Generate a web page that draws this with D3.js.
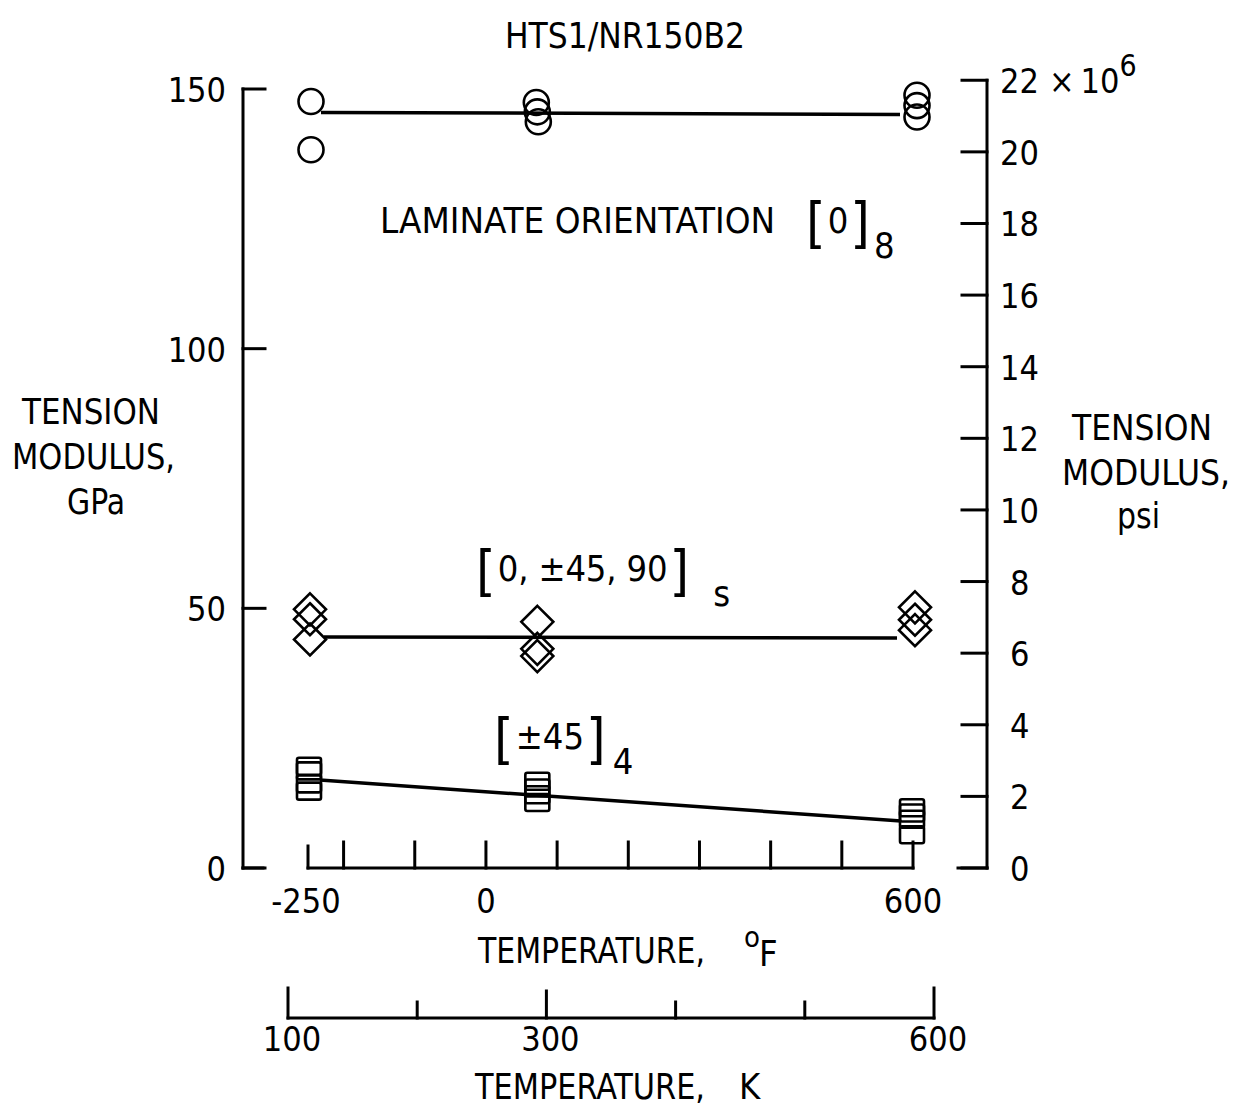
<!DOCTYPE html>
<html><head><meta charset="utf-8">
<script src="https://cdn.jsdelivr.net/npm/d3@7"></script>
<style>
body{margin:0;background:#fff;}
svg text{font-family:"DejaVu Sans Condensed","DejaVu Sans",sans-serif;font-stretch:condensed;fill:#000;}
</style></head>
<body><svg id="c" width="1243" height="1108"></svg>
<script>
// ---- data ----
const tempsF = [-250, 75, 600];
const o8Values = [[147.6, 138.3], [147.4, 145.6, 143.7], [148.8, 146.8, 144.6]];
const quasiValues = [[49.8, 47.9, 44.0], [47.4, 42.2, 40.8], [50.2, 47.8, 45.8]];
const pm45Values = [[19.6, 18.7, 16.2, 14.8], [16.7, 15.4, 14.1, 12.6], [11.6, 10.6, 9.4, 6.4]];
const o8Fit = [145.5, 145.1];
const quasiFit = [44.5, 44.3];
const pm45Fit = [17.1, 8.9];
const gpaTicks = [0, 50, 100, 150];
const psiTicks = [0, 2, 4, 6, 8, 10, 12, 14, 16, 18, 20, 22];
const fTicks = [-250, -200, -100, 0, 100, 200, 300, 400, 500, 600];
const fLabels = [-250, 0, 600];
const kTicks = [100, 200, 300, 400, 500, 600];
const kLabels = [100, 300, 600];
const GPA_TO_MPSI = 0.145038;

const svg = d3.select("#c");
const y = d3.scaleLinear().domain([0, 150]).range([868, 89]);
const yR = d3.scaleLinear().domain([0, 150 * GPA_TO_MPSI]).range([868, 89]);
const xF = d3.scaleLinear().domain([-250, 600]).range([308, 913]);
const xK = d3.scaleLinear().domain([100, 600]).range([288, 934]);

const fs = 36, ns = 34;
function label(txt, x, yb, size, len, anchor) {
  const t = svg.append("text").attr("x", x).attr("y", yb).attr("font-size", size).attr("text-anchor", anchor || "start").text(txt);
  if (len) t.attr("textLength", len).attr("lengthAdjust", "spacingAndGlyphs");
  return t;
}
const ax = svg.append("g").attr("stroke", "#000").attr("stroke-width", 3).attr("fill", "none").attr("stroke-linecap", "square");

// left axis
ax.append("line").attr("x1", 243).attr("x2", 243).attr("y1", y(150)).attr("y2", y(0));
gpaTicks.forEach(t => ax.append("line").attr("x1", 243).attr("x2", 265).attr("y1", y(t)).attr("y2", y(t)));
gpaTicks.forEach(t => label(String(t), 226, y(t) + 13, ns, null, "end"));

// right axis
ax.append("line").attr("x1", 987).attr("x2", 987).attr("y1", yR(22)).attr("y2", yR(0));
psiTicks.forEach(t => ax.append("line").attr("x1", 962).attr("x2", 987).attr("y1", yR(t)).attr("y2", yR(t)));
psiTicks.forEach(t => {
  const tx = label(String(t), t < 10 ? 1010 : 1000, yR(t) + 13, ns);
  if (t === 22) {
    tx.append("tspan").attr("dx", 10).text("×");
    tx.append("tspan").attr("dx", 6).text("10");
    tx.append("tspan").attr("dy", -17).attr("font-size", 30).text("6");
  }
});

// F axis
ax.append("line").attr("x1", xF(-250)).attr("x2", xF(600)).attr("y1", 868).attr("y2", 868);
fTicks.forEach(t => ax.append("line").attr("x1", xF(t)).attr("x2", xF(t)).attr("y1", 868).attr("y2", t === -250 ? 846 : 842));
fLabels.forEach(t => label(String(t), xF(t) + (t === -250 ? -2 : 0), 913, ns, null, "middle"));

// K axis
ax.append("line").attr("x1", xK(100)).attr("x2", xK(600)).attr("y1", 1018).attr("y2", 1018);
kTicks.forEach(t => ax.append("line").attr("x1", xK(t)).attr("x2", xK(t)).attr("y1", 1018)
  .attr("y2", (t === 100 || t === 600) ? 988 : (t === 300 ? 991 : 1002)));
kLabels.forEach(t => label(String(t), xK(t) + 4, 1051, ns, null, "middle"));

// frame stubs at bottom
ax.append("line").attr("x1", 243).attr("x2", 263).attr("y1", 868).attr("y2", 868);
ax.append("line").attr("x1", 958).attr("x2", 987).attr("y1", 868).attr("y2", 868);

// titles
label("HTS1/NR150B2", 505, 48, 35, 240);
label("TENSION", 22, 424, fs, 138);
label("MODULUS,", 12, 469, fs, 163);
label("GPa", 67, 514, fs, 58);
label("TENSION", 1072, 440, fs, 140);
label("MODULUS,", 1062, 485, fs, 168);
label("psi", 1117, 528, fs, 43);

label("TEMPERATURE,", 478, 963, fs, 227);
label("o", 744, 947, 29);
label("F", 759, 966, fs);
label("TEMPERATURE,", 475, 1099, fs, 230);
label("K", 739, 1099, fs);

// laminate labels
label("LAMINATE ORIENTATION", 380, 233, fs, 395);
function lam(x, yb, inner, innerLen, sub, subDx) {
  const t = svg.append("text").attr("x", x).attr("y", yb).attr("font-size", fs);
  t.append("tspan").attr("font-size", 56).attr("dy", 9).text("[");
  const ti = t.append("tspan").attr("dy", -9).attr("dx", 2).text(inner);
  if (innerLen) ti.attr("textLength", innerLen);
  t.append("tspan").attr("font-size", 56).attr("dy", 9).attr("dx", 2).text("]");
  t.append("tspan").attr("dy", 16).attr("dx", subDx).text(sub);
}
lam(806, 233, "0", null, "8", 4);
lam(476, 581, "0,  \u00b145,  90", 170, "s", 24);
lam(494, 749, "\u00b145", null, "4", 7);

// fits
function fitLine(vals, r) {
  const x0 = xF(-250), x1 = xF(600), y0 = y(vals[0]), y1 = y(vals[1]);
  const len = Math.hypot(x1 - x0, y1 - y0), ux = (x1 - x0) / len, uy = (y1 - y0) / len;
  svg.append("line").attr("x1", x0 + ux * r).attr("y1", y0 + uy * r).attr("x2", x1 - ux * r).attr("y2", y1 - uy * r)
    .attr("stroke", "#000").attr("stroke-width", 3.5);
}
fitLine(o8Fit, 13);
fitLine(quasiFit, 16);
fitLine(pm45Fit, 12);

const mk = svg.append("g").attr("fill", "none").attr("stroke", "#000").attr("stroke-width", 2.6);
const xOff = [3, -3, 4];
tempsF.forEach((t, i) => o8Values[i].forEach((v, j) =>
  mk.append("circle").attr("cx", xF(t) + xOff[i] + (i === 1 ? j : 0)).attr("cy", y(v)).attr("r", 12.5)));
const xOffD = [2, -2, 2];
tempsF.forEach((t, i) => quasiValues[i].forEach(v => {
  const cx = xF(t) + xOffD[i], cy = y(v), r = 16;
  mk.append("path").attr("d", `M${cx},${cy - r}L${cx + r},${cy}L${cx},${cy + r}L${cx - r},${cy}Z`);
}));
const xOffS = [1, -2, -1];
tempsF.forEach((t, i) => pm45Values[i].forEach(v => {
  mk.append("rect").attr("x", xF(t) + xOffS[i] - 12).attr("y", y(v) - 8.5).attr("width", 24).attr("height", 17).attr("rx", 2);
}));
</script></body></html>
